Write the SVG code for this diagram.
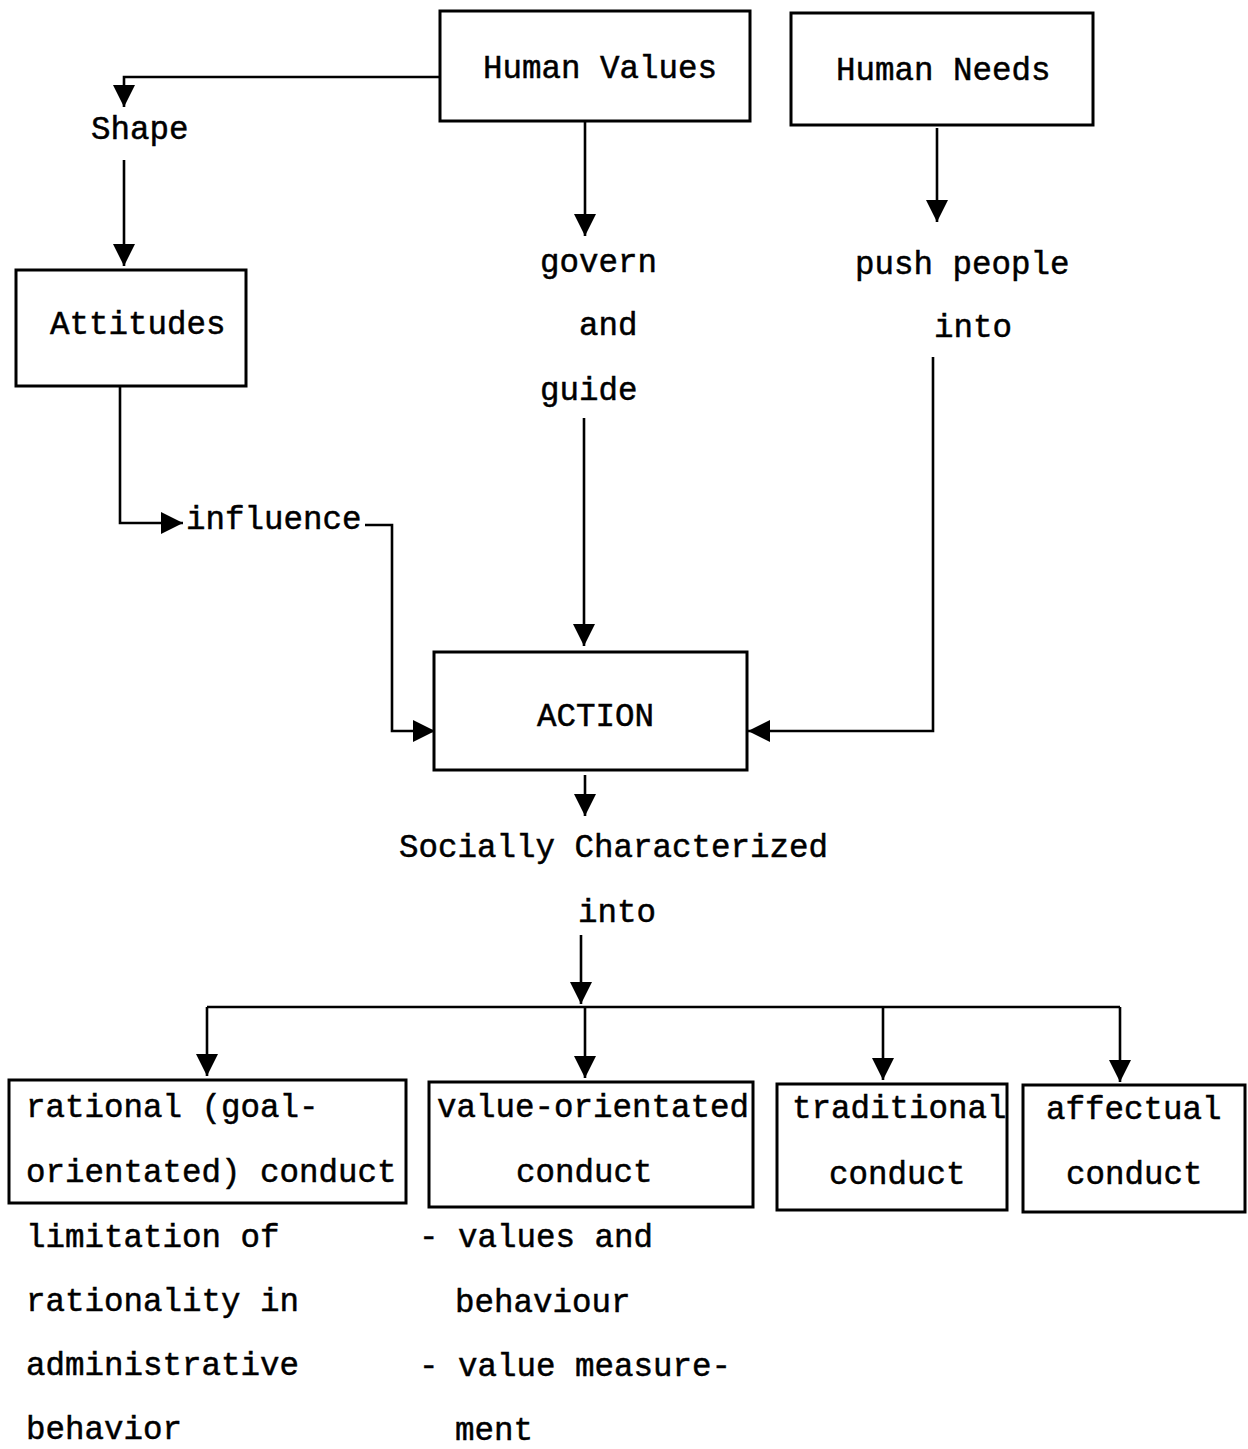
<svg xmlns="http://www.w3.org/2000/svg" width="1248" height="1449" viewBox="0 0 1248 1449">
  <style>
    .box { fill: none; stroke: #000; stroke-width: 3; }
    .wire { fill: none; stroke: #000; stroke-width: 2.6; }
    .t { font-family: "Liberation Mono", "Courier New", monospace; font-size: 32.5px; fill: #000; stroke: #000; stroke-width: 0.5; }
  </style>
  <defs>
    <marker id="arr" markerUnits="userSpaceOnUse" markerWidth="22" markerHeight="22" viewBox="0 0 22 22" refX="22" refY="11" orient="auto">
      <path d="M0,0 L22,11 L0,22 z" fill="#000"/>
    </marker>
  </defs>
  <rect width="1248" height="1449" fill="#fff"/>

  <!-- connectors -->
  <g id="connectors">
    <path class="wire" d="M440,77 H124 V107" marker-end="url(#arr)"/>
    <path class="wire" d="M124,160 V266" marker-end="url(#arr)"/>
    <path class="wire" d="M120,386 V523 H183" marker-end="url(#arr)"/>
    <path class="wire" d="M365,525 H392 V731 H435" marker-end="url(#arr)"/>
    <path class="wire" d="M585,121 V236" marker-end="url(#arr)"/>
    <path class="wire" d="M584,418 V646" marker-end="url(#arr)"/>
    <path class="wire" d="M937,128 V222" marker-end="url(#arr)"/>
    <path class="wire" d="M933,357 V731 H748" marker-end="url(#arr)"/>
    <path class="wire" d="M585,775 V816" marker-end="url(#arr)"/>
    <path class="wire" d="M581,935 V1004" marker-end="url(#arr)"/>
    <!-- distribution bar and its four drops -->
    <path class="wire" d="M207,1007 H1120"/>
    <path class="wire" d="M207,1007 V1076" marker-end="url(#arr)"/>
    <path class="wire" d="M585,1007 V1078" marker-end="url(#arr)"/>
    <path class="wire" d="M883,1007 V1080" marker-end="url(#arr)"/>
    <path class="wire" d="M1120,1007 V1082" marker-end="url(#arr)"/>
  </g>

  <g id="human-values">
    <rect class="box" x="440" y="11" width="310" height="110"/>
    <text class="t" x="483" y="78">Human Values</text>
  </g>
  <g id="human-needs">
    <rect class="box" x="791" y="13" width="302" height="112"/>
    <text class="t" x="836" y="80">Human Needs</text>
  </g>
  <g id="label-shape">
    <text class="t" x="91" y="139">Shape</text>
  </g>
  <g id="attitudes">
    <rect class="box" x="16" y="270" width="230" height="116"/>
    <text class="t" x="50" y="334">Attitudes</text>
  </g>
  <g id="label-influence">
    <text class="t" x="186" y="529">influence</text>
  </g>
  <g id="label-govern">
    <text class="t" x="540" y="272">govern</text>
    <text class="t" x="579" y="335">and</text>
    <text class="t" x="540" y="400">guide</text>
  </g>
  <g id="label-push">
    <text class="t" x="855" y="274">push people</text>
    <text class="t" x="934" y="337">into</text>
  </g>
  <g id="action">
    <rect class="box" x="434" y="652" width="313" height="118"/>
    <text class="t" x="537" y="726">ACTION</text>
  </g>
  <g id="label-socially">
    <text class="t" x="399" y="857">Socially Characterized</text>
    <text class="t" x="578" y="922">into</text>
  </g>
  <g id="rational">
    <rect class="box" x="9" y="1080" width="397" height="123"/>
    <text class="t" x="26" y="1117">rational (goal-</text>
    <text class="t" x="26" y="1182">orientated) conduct</text>
  </g>
  <g id="value-orientated">
    <rect class="box" x="429" y="1082" width="324" height="125"/>
    <text class="t" x="437" y="1117">value-orientated</text>
    <text class="t" x="516" y="1182">conduct</text>
  </g>
  <g id="traditional">
    <rect class="box" x="777" y="1084" width="230" height="126"/>
    <text class="t" x="792" y="1118">traditional</text>
    <text class="t" x="829" y="1184">conduct</text>
  </g>
  <g id="affectual">
    <rect class="box" x="1023" y="1085" width="222" height="127"/>
    <text class="t" x="1046" y="1119">affectual</text>
    <text class="t" x="1066" y="1184">conduct</text>
  </g>
  <g id="notes-rational">
    <text class="t" x="26" y="1247">limitation of</text>
    <text class="t" x="26" y="1311">rationality in</text>
    <text class="t" x="26" y="1375">administrative</text>
    <text class="t" x="26" y="1439">behavior</text>
  </g>
  <g id="notes-value">
    <text class="t" x="419" y="1247">- values and</text>
    <text class="t" x="455" y="1312">behaviour</text>
    <text class="t" x="419" y="1376">- value measure-</text>
    <text class="t" x="455" y="1440">ment</text>
  </g>
</svg>
